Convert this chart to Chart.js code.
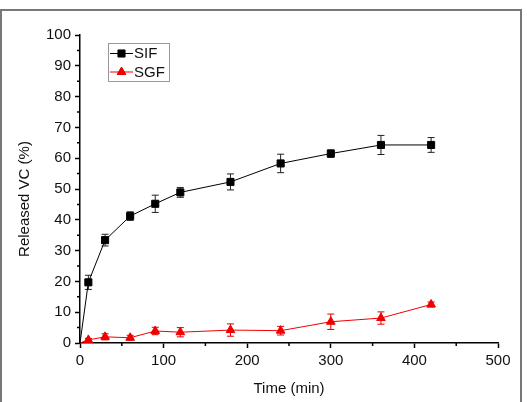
<!DOCTYPE html>
<html>
<head>
<meta charset="utf-8">
<script src="https://cdn.jsdelivr.net/npm/chart.js@4/dist/chart.umd.min.js"></script>
<style>
  html, body { margin: 0; padding: 0; background: #fff; }
  #wrap { position: relative; width: 527px; height: 402px; }
  #frame { position: absolute; left: 0; top: 9px; width: 522px; height: 400px;
           border: 2px solid #777; border-bottom: none; box-sizing: border-box; pointer-events: none; }
</style>
</head>
<body>
<div id="wrap">
  <canvas id="chart" width="527" height="402"></canvas>
  <div id="frame"></div>
</div>
<script>
// data
const times = [0, 10, 30, 60, 90, 120, 180, 240, 300, 360, 420];
const sifValues = [0, 19.7, 33.4, 41.2, 45.2, 48.9, 52.3, 58.3, 61.5, 64.3, 64.3];
const sifErrors = [0, 2.3, 1.9, 1.4, 2.8, 1.6, 2.6, 3.0, 1.2, 3.1, 2.4];
const sgfValues = [0, 1.0, 2.0, 1.7, 3.9, 3.5, 4.2, 4.0, 6.9, 8.1, 12.5];
const sgfErrors = [0, 0.5, 1.0, 0.8, 1.2, 1.5, 2.0, 1.4, 2.5, 2.0, 0.8];
const xTicks = [0, 100, 200, 300, 400, 500];
const yTicks = [0, 10, 20, 30, 40, 50, 60, 70, 80, 90, 100];
const seriesLabels = ['SIF', 'SGF'];
const yTitle = 'Released VC (%)';

const FONT = "'Liberation Sans', Arial, sans-serif";

function toPoints(vals) {
  return times.map((t, i) => ({ x: t, y: vals[i] }));
}
const radii = times.map(t => (t === 0 ? 0 : 5));

// error bars drawn through the scales
const errorBars = {
  id: 'errorBars',
  beforeDatasetsDraw(chart) {
    const ctx = chart.ctx;
    const xs = chart.scales.x, ys = chart.scales.y;
    chart.data.datasets.forEach(ds => {
      ctx.save();
      ctx.strokeStyle = ds.errColor;
      ctx.lineWidth = 1;
      ds.data.forEach((p, i) => {
        const e = ds.errors[i];
        if (!e) return;
        const x = xs.getPixelForValue(p.x);
        const y1 = ys.getPixelForValue(p.y + e);
        const y2 = ys.getPixelForValue(p.y - e);
        ctx.beginPath();
        ctx.moveTo(x, y1); ctx.lineTo(x, y2);
        ctx.moveTo(x - 3.5, y1); ctx.lineTo(x + 3.5, y1);
        ctx.moveTo(x - 3.5, y2); ctx.lineTo(x + 3.5, y2);
        ctx.stroke();
      });
      ctx.restore();
    });
  }
};

// minor ticks halfway between the major ones, plus the y title
const minorTicks = {
  id: 'minorTicks',
  afterDraw(chart) {
    const ctx = chart.ctx;
    const xs = chart.scales.x, ys = chart.scales.y;
    const area = chart.chartArea;
    ctx.save();
    ctx.strokeStyle = '#000';
    ctx.lineWidth = 1.5;
    ctx.beginPath();
    for (let i = 0; i < xTicks.length - 1; i++) {
      const x = xs.getPixelForValue((xTicks[i] + xTicks[i + 1]) / 2);
      ctx.moveTo(x, area.bottom); ctx.lineTo(x, area.bottom + 3);
    }
    for (let i = 0; i < yTicks.length - 1; i++) {
      const y = ys.getPixelForValue((yTicks[i] + yTicks[i + 1]) / 2);
      ctx.moveTo(area.left, y); ctx.lineTo(area.left - 3, y);
    }
    ctx.stroke();

    ctx.translate(25, 199);
    ctx.rotate(-Math.PI / 2);
    ctx.font = '15px ' + FONT;
    ctx.fillStyle = '#111';
    ctx.textAlign = 'center';
    ctx.textBaseline = 'middle';
    ctx.fillText(yTitle, 0, 0);
    ctx.restore();
  }
};

// legend box with line + marker samples
const boxLegend = {
  id: 'boxLegend',
  afterDraw(chart) {
    const ctx = chart.ctx;
    const bx = 108.5, by = 43.5, bw = 61, bh = 38;
    ctx.save();
    ctx.fillStyle = '#fff';
    ctx.fillRect(bx, by, bw, bh);
    ctx.strokeStyle = '#999';
    ctx.lineWidth = 1;
    ctx.strokeRect(bx, by, bw, bh);
    ctx.font = '15px ' + FONT;
    ctx.textBaseline = 'middle';
    chart.data.datasets.forEach((ds, i) => {
      const y = 53.5 + i * 18.5;
      ctx.strokeStyle = ds.borderColor;
      ctx.lineWidth = 1;
      ctx.beginPath();
      ctx.moveTo(110, y); ctx.lineTo(133, y);
      ctx.stroke();
      Chart.helpers.drawPoint(ctx, { pointStyle: ds.pointStyle, radius: 5, borderWidth: 1 }, 121.5, y);
      ctx.fillStyle = ds.pointBackgroundColor;
      ctx.fill();
      ctx.fillStyle = '#111';
      ctx.fillText(ds.label, 134, y + 0.5);
    });
    ctx.restore();
  }
};

new Chart(document.getElementById('chart'), {
  type: 'line',
  data: {
    datasets: [
      {
        label: seriesLabels[0],
        data: toPoints(sifValues),
        errors: sifErrors,
        errColor: '#222',
        borderColor: '#000',
        borderWidth: 1,
        pointStyle: 'rect',
        pointRadius: radii,
        pointBackgroundColor: '#000',
        pointBorderColor: '#000',
        pointBorderWidth: 1,
        tension: 0
      },
      {
        label: seriesLabels[1],
        data: toPoints(sgfValues),
        errors: sgfErrors,
        errColor: '#e00000',
        borderColor: '#f00000',
        borderWidth: 1,
        pointStyle: 'triangle',
        pointRadius: radii,
        pointBackgroundColor: '#f00000',
        pointBorderColor: '#f00000',
        pointBorderWidth: 1,
        tension: 0
      }
    ]
  },
  options: {
    responsive: false,
    animation: false,
    layout: { padding: { left: 0, top: 35, right: 29, bottom: 0 } },
    plugins: { legend: { display: false }, tooltip: { enabled: false } },
    scales: {
      x: {
        type: 'linear',
        min: 0, max: 500,
        afterBuildTicks(s) { s.ticks = xTicks.map(v => ({ value: v })); },
        afterFit(s) { s.height = 59; s.paddingLeft = 0; s.paddingRight = 0; },
        ticks: { font: { family: FONT, size: 15 }, color: '#111', padding: 4, maxRotation: 0 },
        grid: { drawOnChartArea: false, drawTicks: true, tickLength: 5, tickColor: '#000', tickWidth: 1.5 },
        border: { display: true, color: '#000', width: 1.5 },
        title: { display: true, text: 'Time (min)', font: { family: FONT, size: 15 }, color: '#111', padding: { top: 0, bottom: 4 } }
      },
      y: {
        min: 0, max: 100,
        afterBuildTicks(s) { s.ticks = yTicks.map(v => ({ value: v })); },
        afterFit(s) { s.width = 80; s.paddingTop = 0; s.paddingBottom = 0; },
        ticks: { font: { family: FONT, size: 15 }, color: '#111', padding: 4 },
        grid: { drawOnChartArea: false, drawTicks: true, tickLength: 5, tickColor: '#000', tickWidth: 1.5 },
        border: { display: true, color: '#000', width: 1.5 }
      }
    }
  },
  plugins: [errorBars, minorTicks, boxLegend]
});
</script>
</body>
</html>
